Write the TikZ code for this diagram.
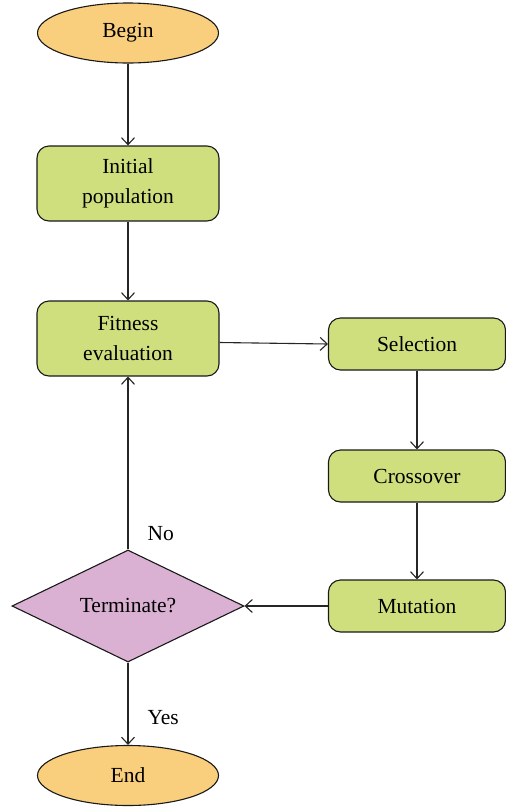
\documentclass[tikz,border=0pt]{standalone}
\usepackage{fontspec}
\setmainfont{Liberation Serif}
\usetikzlibrary{arrows.meta,shapes.geometric}
\definecolor{termfill}{HTML}{F9CF7D}
\definecolor{procfill}{HTML}{D0DF7E}
\definecolor{decfill}{HTML}{DBB1D3}

\begin{document}
\begin{tikzpicture}[x=1pt,y=-1pt,>={Straight Barb[length=7pt,width=13pt]},
 font=\fontsize{21.5}{30}\selectfont,
 terminal/.style={ellipse,draw=black!90,line width=1.1pt,fill=termfill,minimum width=181pt,minimum height=60pt,inner sep=0pt},
 bigbox/.style={rectangle,rounded corners=12pt,draw=black!90,line width=1.1pt,fill=procfill,align=center,inner sep=0pt,minimum width=182pt,minimum height=75pt},
 smallbox/.style={bigbox,minimum width=177pt,minimum height=52pt},
 decision/.style={diamond,draw=black!90,line width=1.1pt,fill=decfill,inner sep=0pt,shape aspect=2,minimum width=232pt,minimum height=112pt},
 flow/.style={->,draw=black!85,line width=1.1pt},
 answer/.style={inner sep=0pt}]
\useasboundingbox (0,0) rectangle (506,807);
\node[terminal] (start) at (128,33) {Begin};
\node[bigbox] (init) at (128,183.5) {Initial\\population};
\node[bigbox] (fit) at (128,338.5) {Fitness\\evaluation};
\node[smallbox] (sel) at (417,344) {Selection};
\node[smallbox] (cross) at (417,476) {Crossover};
\node[smallbox] (mut) at (417,606) {Mutation};
\node[decision] (dec) at (128,606) {Terminate?};
\node[terminal] (stop) at (128,775.5) {End};
\draw[flow] (start) -- (init);
\draw[flow] (init) -- (fit);
\draw[flow] ([yshift=-4pt]fit.east) -- (sel.west);
\draw[flow] (sel) -- (cross);
\draw[flow] (cross) -- (mut);
\draw[flow] (mut) -- (dec);
\draw[flow] (dec) -- node[answer,pos=.09,right=19pt] (no) {No} (fit);
\draw[flow] (dec) -- node[answer,pos=.67,right=19pt] (yes) {Yes} (stop);
\end{tikzpicture}
\end{document}
